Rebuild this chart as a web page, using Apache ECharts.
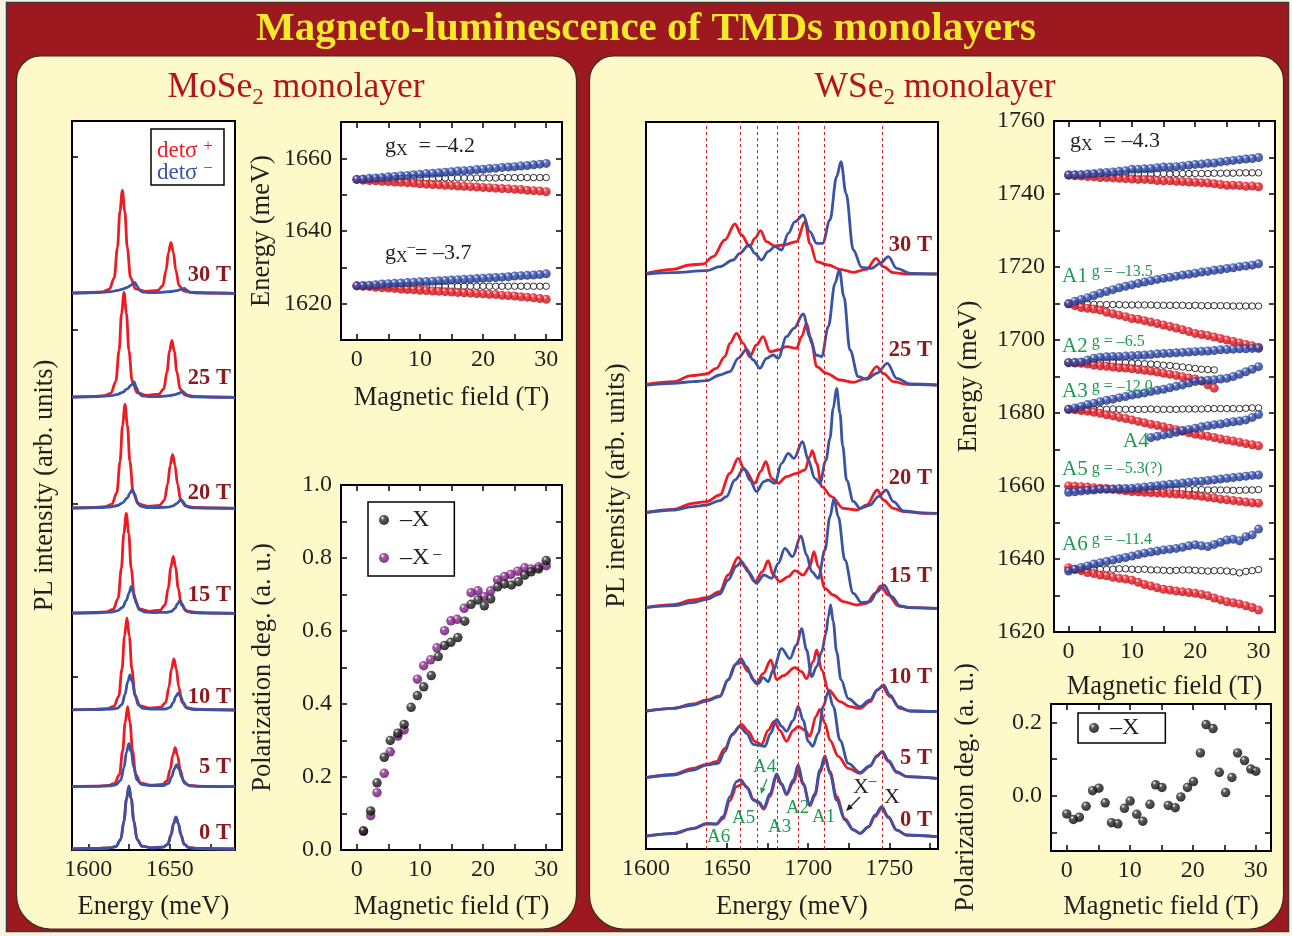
<!DOCTYPE html>
<html>
<head>
<meta charset="utf-8">
<title>Magneto-luminescence of TMDs monolayers</title>
<script src="https://cdn.jsdelivr.net/npm/echarts@6.0.0/dist/echarts.min.js"></script>
<style>
html,body{margin:0;padding:0;background:#f7f3e3;}
#chart{width:1292px;height:936px;}
</style>
</head>
<body>
<div id="chart"></div>
<script>
// ================= DATA =================
// --- MoSe2 PL spectra: [energy meV, intensity arb.u.] relative to each baseline ---
const moFields = ['0 T','5 T','10 T','15 T','20 T','25 T','30 T'];
const moOffsets = [1, 63.3, 140, 236.7, 341.7, 452.7, 556.7];
const moR0 = [[1590,0.2],[1604.9,0.5],[1612.9,1],[1616.9,2.4],[1619.9,9.3],[1621.9,28],[1623.4,49.6],[1624.9,62],[1626.4,49.6],[1627.9,28],[1629.9,9.5],[1632.9,2.8],[1638.9,1.2],[1645.8,1.8],[1648.8,4.7],[1650.8,14],[1652.3,25],[1653.8,31.5],[1655.3,25],[1656.8,14],[1658.8,4.7],[1661.8,1.3],[1667.8,0.5],[1690,0]];
const moB0 = [[1590,0.2],[1604.9,0.5],[1612.9,1],[1616.9,2.5],[1619.9,9.5],[1621.9,28.4],[1623.4,50],[1624.9,63],[1626.4,50],[1627.9,28.4],[1629.9,9.7],[1632.9,2.8],[1638.9,1.2],[1645.8,1.8],[1648.8,4.8],[1650.8,14.4],[1652.3,25.6],[1653.8,32],[1655.3,25.6],[1656.8,14.4],[1658.8,4.8],[1661.8,1.3],[1667.8,0.5],[1690,0]];
const moR5 = [[1590,0.3],[1604.1,0.6],[1612.1,1.2],[1616.1,3.2],[1619.1,12],[1621.1,36],[1622.6,64],[1624.1,80],[1625.6,64],[1627.1,36],[1629.1,12.3],[1632.1,3.5],[1638.1,1.5],[1645.3,2.2],[1648.3,5.8],[1650.3,17.5],[1651.8,31],[1653.3,39],[1654.8,31],[1656.3,17.5],[1658.3,5.8],[1661.3,1.6],[1667.3,0.6],[1675,0.2],[1690,0]];
const moB5 = [[1590,0.2],[1604.9,0.4],[1612.9,0.8],[1616.9,1.8],[1619.9,6.5],[1621.9,19.4],[1623.4,34.4],[1624.9,43],[1626.4,34.4],[1627.9,19.4],[1629.9,6.7],[1632.9,2],[1639,1],[1646.2,1.2],[1649.2,3.3],[1651.2,10],[1652.7,17.6],[1654.2,22],[1655.7,17.6],[1657.2,10],[1659.2,3.3],[1662.2,0.9],[1668,0.4],[1690,0]];
const moR10 = [[1590,0.3],[1603.7,0.7],[1611.7,1.4],[1615.7,3.7],[1618.7,13.8],[1620.7,41.4],[1622.2,73.6],[1623.7,92],[1625.2,73.6],[1626.7,41.4],[1628.7,14],[1631.7,4],[1637.7,1.8],[1644.5,2.8],[1647.5,7.6],[1649.5,23],[1651,41],[1652.5,51],[1654,41],[1655.5,23],[1657.5,7.6],[1660.5,2],[1666.5,0.8],[1675,0.3],[1690,0]];
const moB10 = [[1590,0.2],[1605.6,0.4],[1613.6,0.8],[1617.6,1.6],[1620.6,5.3],[1622.6,15.8],[1624.1,28],[1625.6,35],[1627.1,28],[1628.6,15.8],[1630.6,5.4],[1633.6,1.6],[1640,0.8],[1647.2,1],[1650.2,2.6],[1652.2,7.7],[1653.7,13.6],[1655.2,17],[1656.7,13.6],[1658.2,7.7],[1660.2,2.6],[1663.2,0.7],[1669,0.3],[1690,0]];
const moR15 = [[1590,0.3],[1603.3,0.8],[1611.3,1.5],[1615.3,4],[1618.3,15],[1620.3,45],[1621.8,80],[1623.3,100],[1624.8,80],[1626.3,45],[1628.3,15.3],[1631.3,4.3],[1637.3,2],[1644.1,3.2],[1647.1,8.5],[1649.1,25.6],[1650.6,45.6],[1652.1,57],[1653.6,45.6],[1655.1,25.6],[1657.1,8.5],[1660.1,2.3],[1666.1,0.9],[1675,0.3],[1690,0]];
const moB15 = [[1590,0.2],[1606,0.5],[1614,1.2],[1618,2.6],[1621,6],[1623.4,13],[1624.9,20],[1626.4,27],[1627.9,20],[1629.4,10],[1631.4,3.5],[1635,1.2],[1641,0.8],[1648,1],[1651,2],[1653.2,5],[1654.7,9.5],[1656.2,13],[1657.7,9],[1659.2,4],[1661.2,1.5],[1664,0.6],[1670,0.2],[1690,0]];
const moR20 = [[1590,0.3],[1602.5,0.8],[1610.5,1.6],[1614.5,4.2],[1617.5,15.6],[1619.5,47],[1621,83],[1622.5,104],[1624,83],[1625.5,47],[1627.5,15.8],[1630.5,4.5],[1636.5,2],[1643.7,3],[1646.7,8],[1648.7,24.3],[1650.2,43],[1651.7,54],[1653.2,43],[1654.7,24.3],[1656.7,8],[1659.7,2.2],[1665.7,0.8],[1675,0.3],[1690,0]];
const moB20 = [[1590,0.2],[1606,0.6],[1614,1.4],[1618,2.8],[1621,5.5],[1624,10.5],[1625.5,15],[1627,19],[1628.5,14],[1630,6.5],[1632,2.2],[1636,0.8],[1642,0.8],[1649,1.2],[1652,2.5],[1654.5,5],[1655.8,7.2],[1656.9,9],[1658.2,6.5],[1659.7,3],[1661.7,1],[1665,0.4],[1690,0]];
const moR25 = [[1590,0.3],[1601.9,0.8],[1609.9,1.6],[1613.9,4.2],[1616.9,16],[1618.9,47],[1620.4,84],[1621.9,105],[1623.4,84],[1624.9,47],[1626.9,16.3],[1629.9,4.6],[1635.9,2],[1643.3,3.2],[1646.3,8.5],[1648.3,25.6],[1649.8,45.6],[1651.3,57],[1652.8,45.6],[1654.3,25.6],[1656.3,8.5],[1659.3,2.3],[1665.3,0.9],[1675,0.3],[1690,0]];
const moB25 = [[1590,0.2],[1606,0.7],[1614,1.6],[1618,3],[1621,5],[1624,8.5],[1626.5,12.5],[1628,15.6],[1629.5,10],[1631,4],[1633,1.5],[1637,0.6],[1644,0.8],[1650,1.6],[1653,2.6],[1655.5,4],[1657.9,6],[1659.3,4],[1661,1.5],[1664,0.5],[1690,0]];
const moR30 = [[1590,0.3],[1600.9,0.8],[1608.9,1.5],[1612.9,4],[1615.9,15.5],[1617.9,46],[1619.4,82],[1620.9,103],[1622.4,82],[1623.9,46],[1625.9,15.8],[1628.9,4.5],[1634.9,2],[1642.7,3],[1645.7,7.7],[1647.7,23],[1649.2,41],[1650.7,51],[1652.2,41],[1653.7,23],[1655.7,7.7],[1658.7,2.2],[1664.7,0.8],[1675,0.3],[1690,0]];
const moB30 = [[1590,0.2],[1606,0.8],[1614,1.7],[1618,2.9],[1621,4.2],[1624,6],[1626.5,8.5],[1628.5,11],[1630,7],[1631.5,3],[1633.5,1.2],[1638,0.6],[1645,0.9],[1651,1.8],[1654,2.6],[1656.5,3.6],[1658.9,5],[1660.3,3.2],[1662,1.2],[1665,0.4],[1690,0]];

// --- WSe2 PL spectra ---
const wsFields = ['0 T','5 T','10 T','15 T','20 T','25 T','30 T'];
const wsOffsets = [12.3, 70.7, 137.3, 240.7, 335.7, 464, 575];
const wsLines = [1637.3, 1658.3, 1668.5, 1680.9, 1693.8, 1709.9, 1745.7];
const wsR0 = [[1600.2,0.5],[1616.7,3],[1629.0,8],[1637.3,12.5],[1643.4,12.5],[1647.5,18],[1651.7,36],[1655.8,50],[1659.9,53],[1663.0,48],[1666.1,37],[1669.2,34],[1672.7,27.5],[1676.4,40],[1680.5,60],[1683.6,52],[1686.6,42],[1690.8,54],[1693.8,66],[1696.9,52],[1701.0,31],[1704.1,41],[1707.2,64],[1710.3,78],[1713.4,65],[1717.5,40],[1722.6,18],[1727.8,7],[1731.9,3.3],[1737.1,9.5],[1741.2,20],[1745.3,28],[1749.4,19],[1754.5,6.5],[1760.7,1.5],[1779.2,0]];
const wsB0 = [[1600.2,0.7],[1616.7,3.3],[1629.0,8.3],[1637.3,13.3],[1643.4,12.7],[1647.5,20],[1651.7,40],[1655.8,55],[1658.2,57],[1662.0,50],[1666.1,36.7],[1669.2,35],[1672.7,29],[1676.4,43],[1680.5,62.7],[1683.6,53],[1686.6,42.7],[1690.8,56.7],[1693.8,71.7],[1696.9,53],[1701.0,32],[1704.1,43],[1707.2,66.7],[1710.3,80.7],[1713.4,63],[1717.5,36.7],[1722.6,16.7],[1727.8,6.7],[1731.9,3.3],[1737.1,10],[1741.2,21.7],[1745.3,30],[1749.4,20],[1754.5,6.7],[1760.7,1.7],[1779.2,0]];
const wsR5 = [[1600.2,1],[1616.7,4],[1629.0,10],[1637.3,14],[1643.4,16.7],[1648.6,30],[1653.7,45],[1658.9,54],[1663.0,47],[1667.1,37],[1671.2,34],[1675.3,48],[1679.0,57],[1682.5,48],[1686.6,37],[1690.8,48],[1693.8,52],[1698.0,48],[1701.0,42],[1704.8,62],[1707.2,69],[1710.3,55],[1713.4,38],[1718.5,22],[1724.7,10],[1731.9,5],[1738.1,12],[1742.6,23],[1745.3,26],[1749.4,17],[1754.5,6],[1760.7,1.7],[1779.2,0]];
const wsB5 = [[1600.2,0.7],[1616.7,3.3],[1629.0,8.3],[1637.3,13.3],[1644.5,15],[1648.6,26.7],[1652.7,43],[1657.8,52],[1662.0,45],[1666.1,34],[1670.2,33],[1673.3,32],[1676.8,45],[1680.5,59],[1683.6,52],[1686.6,47],[1690.8,58],[1693.8,72],[1696.9,58],[1700.0,37],[1702.7,32],[1706.2,45],[1709.3,72],[1712.4,87],[1715.4,72],[1719.6,38],[1724.7,15],[1731.9,6],[1738.1,12.7],[1742.2,21.7],[1745.7,27],[1749.4,18],[1754.5,6.7],[1760.7,1.7],[1779.2,0]];
const wsR10 = [[1600.2,0.7],[1616.7,3.3],[1629.0,7.7],[1637.3,11.7],[1645.5,15.7],[1650.6,32],[1655.8,48],[1658.9,49],[1663.0,40],[1668.1,28],[1672.2,38],[1677.0,51.7],[1680.5,32],[1684.6,36],[1691.8,44],[1695.9,40],[1699.0,33],[1703.1,50],[1705.2,61.7],[1708.3,41.7],[1712.4,21.7],[1719.6,10],[1725.7,5],[1731.9,3.3],[1738.1,10],[1742.6,21.7],[1745.7,25],[1750.4,15],[1756.6,3.3],[1762.8,0.7],[1779.2,0]];
const wsB10 = [[1600.2,0.7],[1616.7,3.3],[1629.0,6.7],[1637.3,10.7],[1645.5,15],[1650.6,31.7],[1654.8,46.7],[1658.5,53],[1662.0,45],[1666.1,31.7],[1669.2,28],[1672.2,34],[1675.3,30],[1678.4,41.7],[1683.6,63],[1688.7,53],[1692.8,66.7],[1695.9,83],[1699.0,61.7],[1702.1,35],[1705.2,45],[1708.3,60],[1710.9,78],[1712.4,95],[1713.8,106.7],[1715.4,90],[1717.5,60],[1720.2,32],[1724.7,13],[1731.9,5],[1738.1,11.7],[1742.6,21.7],[1746.3,26.7],[1750.4,16.7],[1755.6,5],[1762.8,0.7],[1779.2,0]];
const wsR15 = [[1600.2,1],[1616.7,3.7],[1629.0,8.3],[1637.3,10.7],[1645.5,16.7],[1650.6,33.3],[1656.8,51],[1660.9,41.7],[1667.1,26.7],[1671.8,36.7],[1675.3,47.7],[1678.4,33.3],[1682.5,26.7],[1687.7,31.7],[1691.8,37.7],[1696.9,33.3],[1701.0,41.7],[1703.5,56.7],[1706.2,41.7],[1710.3,20],[1715.4,13.3],[1721.6,6.7],[1729.9,3.3],[1736.0,5],[1741.2,15],[1744.7,22.3],[1749.4,13.3],[1755.6,2.3],[1762.8,0.7],[1779.2,0]];
const wsB15 = [[1600.2,0.7],[1616.7,2.7],[1629.0,5.7],[1637.3,9],[1645.5,14.3],[1650.6,28.3],[1655.8,42.3],[1658.9,46.7],[1663.0,36.7],[1668.1,25],[1672.7,33.3],[1677.4,30],[1681.5,45],[1685.6,60],[1690.3,51.7],[1695.5,72.3],[1699.0,53.3],[1702.1,36.7],[1706.2,30],[1710.3,58.3],[1713.4,91.7],[1715.9,110],[1718.5,91.7],[1722.6,48.3],[1727.8,15],[1732.9,5.7],[1738.1,6.7],[1742.6,16.7],[1746.7,23.3],[1751.5,11.7],[1756.6,2.3],[1762.8,0.7],[1779.2,0]];
const wsR20 = [[1600.2,1],[1616.7,4],[1629.0,10],[1637.3,11.7],[1645.5,18.3],[1651.7,40],[1656.8,55],[1660.9,43.3],[1667.1,30],[1670.6,41.7],[1673.9,51.7],[1677.4,35],[1681.5,30],[1686.6,36.7],[1692.8,40],[1698.0,43.3],[1701.0,56.7],[1702.5,62.7],[1705.2,50],[1708.3,26.7],[1714.4,16.7],[1721.6,5],[1729.9,3.3],[1736.0,8.3],[1742.6,23.3],[1746.3,13.3],[1752.5,5],[1758.7,1.7],[1771.0,0],[1779.2,0]];
const wsB20 = [[1600.2,0.7],[1616.7,3.3],[1629.0,6.7],[1637.3,8.3],[1645.5,12.7],[1649.6,16.7],[1654.8,33.3],[1660.5,45],[1664.0,33.3],[1668.1,21.7],[1672.7,31.7],[1675.3,33.3],[1679.4,30],[1683.6,50],[1687.7,60],[1691.2,55],[1696.5,71.7],[1700.0,53.3],[1704.1,35],[1707.2,30],[1710.9,53],[1713.4,75],[1715.4,105],[1717.5,125],[1719.6,100],[1721.2,68],[1723.7,33],[1727.8,12],[1731.9,5],[1738.1,8.3],[1743.2,16.7],[1748.0,23.3],[1752.5,11.7],[1758.7,2.3],[1771.0,0.5],[1779.2,0]];
const wsR25 = [[1600.2,0.7],[1616.7,3.3],[1628.0,9.3],[1637.3,11],[1643.4,16.7],[1648.6,28.3],[1651.7,41.7],[1655.8,51.7],[1659.9,41.7],[1664.0,28.3],[1668.1,40],[1672.2,48.3],[1676.4,33.3],[1681.5,35],[1686.6,38.3],[1692.8,36.7],[1695.9,48.3],[1699.0,61.7],[1702.1,41.7],[1705.2,18.3],[1711.3,11.7],[1719.6,5],[1727.8,2.7],[1736.0,6.7],[1742.2,18.3],[1746.3,11.7],[1752.5,3.3],[1760.7,0.7],[1779.2,0]];
const wsB25 = [[1600.2,0],[1616.7,1.7],[1629.0,3.3],[1637.3,4.3],[1645.5,10],[1651.7,13.3],[1656.8,26.7],[1662.0,35.7],[1666.1,25],[1670.2,16.7],[1674.3,26.7],[1678.4,30],[1681.5,26.7],[1686.6,48.3],[1691.2,56.7],[1696.9,71],[1701.0,48.3],[1704.8,30],[1708.3,28.3],[1712.4,58.3],[1716.5,101.7],[1719.2,115],[1722.0,88.3],[1725.7,35],[1730.9,8.3],[1736.0,5.7],[1742.2,11.7],[1748.8,21.7],[1754.5,6.7],[1762.8,1],[1779.2,0]];
const wsR30 = [[1600.2,0.7],[1616.7,4.7],[1627.0,9],[1635.2,10],[1641.4,17.3],[1648.6,34],[1654.8,50],[1658.9,39],[1664.0,27.3],[1667.1,35.7],[1670.6,43.3],[1674.3,32.3],[1679.4,28],[1684.6,29],[1692.8,32.3],[1698.0,52.3],[1701.0,30.7],[1705.2,12.3],[1712.4,9],[1719.6,4.7],[1727.8,1.7],[1736.0,4.7],[1741.8,15.7],[1746.3,7.3],[1752.5,1.3],[1760.7,0],[1779.2,0]];
const wsB30 = [[1600.2,0],[1616.7,1.3],[1637.3,3.3],[1645.5,7.3],[1653.7,14],[1657.8,20.7],[1663.4,29],[1667.1,20.7],[1671.2,14],[1675.3,22.3],[1679.4,27.3],[1683.6,24],[1687.7,40.7],[1691.8,52.3],[1696.9,59],[1701.0,42.3],[1705.2,30.7],[1708.9,30.7],[1713.4,54],[1717.5,97.3],[1720.2,112.3],[1723.3,80.7],[1727.8,24],[1732.9,6.7],[1739.1,5.7],[1744.3,10.7],[1749.4,17.3],[1754.5,5.7],[1762.8,0.7],[1779.2,0]];

// --- magnetic field values (T) for energy panels ---
const fieldB = [0,1,2,3,4,5,6,7,8,9,10,11,12,13,14,15,16,17,18,19,20,21,22,23,24,25,26,27,28,29,30];

// --- MoSe2 peak energies vs field (meV) ---
const moX_b  = [1654.2,1654.3,1654.5,1654.6,1654.7,1654.9,1655.0,1655.2,1655.3,1655.5,1655.6,1655.8,1655.9,1656.0,1656.2,1656.3,1656.5,1656.6,1656.7,1656.9,1657.0,1657.2,1657.3,1657.5,1657.6,1657.7,1657.9,1658.0,1658.2,1658.4,1658.6];
const moX_r  = [1654.2,1654.0,1653.9,1653.8,1653.7,1653.6,1653.5,1653.4,1653.3,1653.2,1653.0,1652.9,1652.8,1652.7,1652.6,1652.5,1652.4,1652.3,1652.2,1652.1,1652.0,1651.9,1651.8,1651.7,1651.6,1651.5,1651.4,1651.2,1651.1,1651.0,1650.8];
const moX_k  = [1654.3,1654.3,1654.3,1654.4,1654.4,1654.4,1654.4,1654.5,1654.5,1654.5,1654.5,1654.5,1654.5,1654.6,1654.6,1654.6,1654.6,1654.6,1654.6,1654.6,1654.6,1654.6,1654.6,1654.7,1654.7,1654.7,1654.7,1654.7,1654.7,1654.7,1654.7];
const moXm_b = [1624.9,1625.0,1625.1,1625.2,1625.4,1625.5,1625.6,1625.7,1625.8,1625.9,1626.0,1626.1,1626.2,1626.3,1626.4,1626.5,1626.6,1626.7,1626.8,1626.9,1627.0,1627.1,1627.2,1627.3,1627.4,1627.6,1627.7,1627.8,1627.9,1628.0,1628.2];
const moXm_r = [1624.9,1624.8,1624.7,1624.5,1624.4,1624.3,1624.2,1624.0,1623.9,1623.8,1623.7,1623.6,1623.5,1623.4,1623.3,1623.2,1623.1,1623.0,1622.9,1622.8,1622.7,1622.6,1622.5,1622.3,1622.2,1622.1,1621.9,1621.8,1621.6,1621.4,1621.2];
const moXm_k = [1624.9,1624.9,1624.9,1624.9,1624.9,1624.8,1624.8,1624.8,1624.8,1624.8,1624.8,1624.8,1624.8,1624.8,1624.8,1624.8,1624.8,1624.8,1624.8,1624.8,1624.8,1624.8,1624.8,1624.8,1624.8,1624.8,1624.8,1624.8,1624.8,1624.8,1624.8];

// --- MoSe2 polarization degree ---
const moPolX_B  = [1.06,2.2,3.2,4.35,5.3,6.5,7.5,8.6,9.6,10.6,11.8,12.9,13.9,14.9,16.0,17.1,18.1,19.2,20.2,21.2,22.3,23.4,24.5,25.6,26.6,27.6,28.8,30.0];
const moPolX_P  = [0.052,0.107,0.184,0.254,0.300,0.320,0.344,0.391,0.423,0.447,0.478,0.530,0.560,0.569,0.582,0.627,0.673,0.685,0.669,0.688,0.721,0.729,0.726,0.735,0.753,0.762,0.770,0.793];
const moPolXm_B = [1.06,2.2,3.2,4.35,5.3,6.5,7.5,9.6,10.6,11.7,12.7,13.9,14.9,15.9,17.0,18.1,19.2,20.2,21.2,22.3,23.4,24.4,25.5,26.6,27.6,28.8,30.0];
const moPolXm_P = [0.052,0.094,0.157,0.210,0.269,0.312,0.329,0.468,0.505,0.521,0.554,0.601,0.628,0.632,0.662,0.705,0.710,0.694,0.710,0.740,0.749,0.755,0.764,0.773,0.770,0.776,0.779];

// --- WSe2 peak energies vs field (meV); null = not observed ---
const wX_b  = [1745.2,1745.3,1745.3,1745.5,1745.6,1745.8,1745.9,1746.0,1746.2,1746.4,1746.8,1746.8,1746.9,1747.0,1747.2,1747.4,1747.4,1747.5,1747.7,1747.9,1748.1,1748.2,1748.4,1748.5,1748.8,1749.0,1749.2,1749.4,1749.6,1749.7,1750.0];
const wX_r  = [1745.2,1745.0,1744.9,1744.8,1744.7,1744.5,1744.5,1744.4,1744.3,1744.2,1744.1,1744.0,1744.0,1743.9,1743.7,1743.6,1743.6,1743.5,1743.4,1743.3,1743.2,1743.1,1743.0,1742.8,1742.6,1742.4,1742.4,1742.3,1742.1,1742.2,1742.0];
const wX_k  = [1745.3,1745.3,1745.4,1745.4,1745.4,1745.5,1745.5,1745.5,1745.5,1745.5,1745.5,1745.5,1745.5,1745.5,1745.6,1745.6,1745.5,1745.6,1745.6,1745.6,1745.6,1745.6,1745.6,1745.7,1745.7,1745.7,1745.7,1745.8,1745.8,1745.8,1745.8];
const wA1_b = [1709.9,1710.6,1711.1,1711.6,1712.2,1712.8,1713.3,1713.8,1714.3,1714.7,1715.1,1715.5,1715.9,1716.2,1716.6,1716.9,1717.2,1717.5,1717.8,1718.0,1718.3,1718.6,1718.8,1719.1,1719.3,1719.6,1719.8,1720.1,1720.3,1720.5,1720.9];
const wA1_r = [1709.9,1709.4,1708.9,1708.7,1708.5,1708.2,1707.6,1707.2,1706.8,1706.4,1705.9,1705.7,1705.3,1704.9,1704.5,1704.1,1703.7,1703.3,1702.8,1702.3,1701.8,1701.5,1701.2,1700.8,1700.4,1700.0,1699.6,1699.2,1698.8,1698.4,1698.0];
const wA1_k = [1709.9,1709.9,1709.8,1709.8,1709.8,1709.7,1709.7,1709.7,1709.7,1709.6,1709.6,1709.6,1709.6,1709.6,1709.5,1709.5,1709.5,1709.5,1709.5,1709.4,1709.5,1709.4,1709.4,1709.4,1709.4,1709.4,1709.3,1709.3,1709.3,1709.3,1709.3];
const wA2_b = [1693.8,1693.9,1694.0,1694.5,1695.0,1695.3,1695.4,1695.5,1695.5,1695.6,1695.7,1695.8,1695.9,1696.0,1696.2,1696.3,1696.4,1696.5,1696.6,1696.7,1696.8,1696.9,1697.0,1697.1,1697.3,1697.4,1697.5,1697.6,1697.6,1697.7,1697.7];
const wA2_r = [1693.8,1693.7,1693.6,1693.4,1693.1,1692.9,1692.8,1692.6,1692.4,1692.3,1692.1,1691.9,1691.7,1691.5,1691.2,1690.9,1690.6,1690.3,1689.9,1689.6,1689.3,1688.8,1687.7,1686.8,null,null,null,null,null,null,null];
const wA2_k = [1693.8,1693.8,1693.8,1693.9,1693.9,1693.9,1693.9,1693.9,1693.9,1693.8,1693.7,1693.6,1693.5,1693.4,1693.3,1693.1,1693.0,1692.8,1692.6,1692.4,1692.2,1692.0,1691.9,1691.8,null,null,null,null,null,null,null];
const wA3_b = [1681.0,1681.4,1681.8,1682.3,1682.7,1683.1,1683.5,1683.8,1684.2,1684.5,1684.9,1685.2,1685.5,1685.9,1686.2,1686.5,1686.9,1687.3,1687.7,1688.2,1688.6,1688.8,1689.0,1689.1,1689.3,1689.5,1690.0,1690.6,1691.3,1692.0,1692.7];
const wA3_r = [1681.0,1680.9,1680.7,1680.5,1680.2,1679.9,1679.5,1679.2,1678.8,1678.5,1678.1,1677.7,1677.3,1676.9,1676.6,1676.2,1675.8,1675.4,1675.0,1674.6,1674.2,1673.9,1673.6,1673.3,1672.9,1672.6,1672.3,1672.0,1671.6,1671.3,1671.0];
const wA3_k = [1681.0,1681.0,1681.0,1681.0,1681.0,1681.0,1681.0,1681.1,1681.0,1681.0,1681.0,1681.0,1681.0,1681.1,1681.0,1681.0,1681.0,1681.0,1681.1,1681.1,1681.1,1681.1,1681.2,1681.2,1681.2,1681.2,1681.2,1681.2,1681.3,1681.4,1681.4];
const wA4_b = [null,null,null,null,null,null,null,null,null,null,null,null,null,1673.3,1673.6,1674.0,1674.3,1674.7,1675.2,1675.5,1675.8,1676.2,1676.5,1676.8,1677.0,1677.3,1677.6,1677.8,1678.1,1678.8,1679.6];
const wA5_b = [1658.3,1658.4,1658.6,1658.8,1658.9,1659.1,1659.1,1659.2,1659.3,1659.3,1659.4,1659.5,1659.7,1659.9,1660.1,1660.3,1660.5,1660.6,1660.8,1661.0,1661.2,1661.3,1661.5,1661.7,1661.9,1662.1,1662.3,1662.5,1662.7,1662.9,1663.0];
const wA5_r = [1660.0,1659.9,1659.8,1659.7,1659.5,1659.4,1659.3,1659.1,1658.9,1658.7,1658.5,1658.4,1658.3,1658.2,1658.1,1658.0,1657.9,1657.8,1657.7,1657.5,1657.4,1657.2,1656.9,1656.7,1656.4,1656.2,1656.0,1655.8,1655.6,1655.4,1655.3];
const wA5_k = [1659.1,1659.1,1659.1,1659.1,1659.1,1659.1,1659.1,1659.1,1659.1,1659.0,1659.0,1659.0,1659.0,1659.0,1659.0,1659.0,1659.0,1659.1,1659.0,1659.0,1659.0,1659.0,1658.9,1658.9,1658.9,1658.9,1658.8,1658.8,1658.9,1658.9,1659.0];
const wA6_b = [1636.7,1637.2,1637.7,1638.1,1638.6,1639.0,1639.3,1639.7,1640.1,1640.4,1640.8,1641.2,1641.6,1641.9,1642.2,1642.5,1642.7,1642.9,1643.2,1643.6,1643.9,1643.6,1643.4,1644.0,1644.6,1645.2,1645.4,1645.0,1646.1,1646.6,1648.2];
const wA6_r = [1637.6,1637.2,1636.8,1636.3,1636.0,1635.6,1635.4,1635.0,1634.7,1634.5,1634.2,1633.6,1633.0,1632.6,1632.1,1631.7,1631.5,1631.2,1631.0,1630.8,1630.6,1630.3,1629.9,1629.3,1628.8,1628.3,1628.0,1627.7,1627.2,1626.7,1626.0];
const wA6_k = [1637.1,1637.1,1637.2,1637.2,1637.2,1637.2,1637.2,1637.2,1637.3,1637.3,1637.2,1637.1,1637.2,1637.0,1637.0,1636.9,1636.8,1636.9,1637.0,1637.0,1636.9,1636.8,1636.7,1636.8,1636.8,1636.7,1636.5,1636.2,1636.6,1636.8,1637.1];

// --- WSe2 polarization degree ---
const wPol_B = [0,1.06,2.0,3.07,4.1,5.1,6.1,7.1,8.1,9.15,10.05,11.1,12.06,13.2,14.1,15.1,16.1,17.2,18.1,19.15,20.1,21.2,22.1,23.2,24.2,25.2,26.2,27.1,28.2,29.2,30];
const wPol_P = [-0.049,-0.064,-0.058,-0.028,0.014,0.021,-0.019,-0.073,-0.076,-0.034,-0.014,-0.050,-0.069,-0.023,0.030,0.023,-0.026,-0.032,-0.003,0.023,0.039,0.117,0.194,0.183,0.064,0.009,0.050,0.117,0.096,0.073,0.067];

// --- axis ticks / labels ---
const moE_ticks = [1600,1625,1650,1675], moE_labels = [1600,1650];
const wsE_ticks = [1600,1625,1650,1675,1700,1725,1750,1775], wsE_labels = [1600,1650,1700,1750];
const B_ticks = [0,5,10,15,20,25,30], B_labels = [0,10,20,30];
const moEn_ticks = [1620,1630,1640,1650,1660], moEn_labels = [1620,1640,1660];
const wsEn_ticks = [1620,1630,1640,1650,1660,1670,1680,1690,1700,1710,1720,1730,1740,1750,1760], wsEn_labels = [1620,1640,1660,1680,1700,1720,1740,1760];
const pol_ticks = [0,0.1,0.2,0.3,0.4,0.5,0.6,0.7,0.8,0.9,1.0], pol_labels = [0,0.2,0.4,0.6,0.8,1.0];
const wpol_ticks = [-0.1,0,0.1,0.2], wpol_labels = [0,0.2];
const moPL_ticks = [173.3,346.7,520,693.3];

// ================= STYLE / BUILD =================
const FONT = '"Liberation Serif", "Times New Roman", serif';
const RED = '#ed1c24', BLUE = '#3a53a4', INK = '#231f20', FIELD = '#8b1a1e', GREEN = '#1f9a52';
function sphere(main, dark) {
  return {type:'radial', x:0.36, y:0.3, r:0.72, colorStops:[{offset:0,color:'#ffffff'},{offset:0.28,color:main},{offset:1,color:dark}]};
}
const S_RED = sphere('#ef2028', '#b10e17');
const S_BLUE = sphere('#3552b4', '#1a2a72');
const S_BLACK = sphere('#333333', '#000000');
const S_PURPLE = sphere('#902c96', '#560f5e');

const TICK = {inside:true, length:6, lineStyle:{color:'#000', width:1.5}};
const LBL = {fontFamily:FONT, fontSize:24, color:INK, margin:8, formatter: v => String(v)};
const NAME = {fontFamily:FONT, fontSize:26.5, color:INK};

function ax(o) { return Object.assign({type:'value', axisLine:{show:false, onZero:false}, splitLine:{show:false}}, o); }

const grid = [
  {left:72, top:121, width:163, height:729},
  {left:341, top:122, width:221, height:218},
  {left:341, top:485, width:221, height:365},
  {left:646, top:122, width:292, height:727},
  {left:1054, top:121, width:221, height:511},
  {left:1051, top:704, width:220, height:147}
].map(g => Object.assign({show:true, backgroundColor:'#fff', borderColor:'#000', borderWidth:2, containLabel:false, outerBoundsMode:'none'}, g));

const xAxis = [
  ax({gridIndex:0, min:1590, max:1690, axisTick:Object.assign({customValues:moE_ticks}, TICK), axisLabel:Object.assign({customValues:moE_labels}, LBL), name:'Energy (meV)', nameLocation:'middle', nameGap:44, nameTextStyle:NAME}),
  ax({gridIndex:1, min:-2.5, max:32.5, axisTick:Object.assign({customValues:B_ticks}, TICK), axisLabel:Object.assign({customValues:B_labels}, LBL), name:'Magnetic field (T)', nameLocation:'middle', nameGap:45, nameTextStyle:NAME}),
  ax({gridIndex:2, min:-2.5, max:32.5, axisTick:Object.assign({customValues:B_ticks}, TICK), axisLabel:Object.assign({customValues:B_labels}, LBL), name:'Magnetic field (T)', nameLocation:'middle', nameGap:44, nameTextStyle:NAME}),
  ax({gridIndex:3, min:1600, max:1780, axisTick:Object.assign({customValues:wsE_ticks}, TICK), axisLabel:Object.assign({customValues:wsE_labels}, LBL), name:'Energy (meV)', nameLocation:'middle', nameGap:45, nameTextStyle:NAME}),
  ax({gridIndex:4, min:-2.3, max:32.6, axisTick:Object.assign({customValues:B_ticks}, TICK), axisLabel:Object.assign({customValues:B_labels}, LBL), name:'Magnetic field (T)', nameLocation:'middle', nameGap:42, nameTextStyle:NAME}),
  ax({gridIndex:5, min:-2.5, max:32.4, axisTick:Object.assign({customValues:B_ticks}, TICK), axisLabel:Object.assign({customValues:B_labels}, LBL), name:'Magnetic field (T)', nameLocation:'middle', nameGap:43, nameTextStyle:NAME}),
  // mirrored top axes (ticks only)
  ax({gridIndex:1, position:'top', min:-2.5, max:32.5, axisTick:Object.assign({customValues:B_ticks}, TICK), axisLabel:{show:false}}),
  ax({gridIndex:2, position:'top', min:-2.5, max:32.5, axisTick:Object.assign({customValues:B_ticks}, TICK), axisLabel:{show:false}}),
  ax({gridIndex:4, position:'top', min:-2.3, max:32.6, axisTick:Object.assign({customValues:B_ticks}, TICK), axisLabel:{show:false}}),
  ax({gridIndex:5, position:'top', min:-2.5, max:32.4, axisTick:Object.assign({customValues:B_ticks}, TICK), axisLabel:{show:false}})
];
const yAxis = [
  ax({gridIndex:0, min:0, max:729, axisTick:Object.assign({customValues:moPL_ticks}, TICK), axisLabel:{show:false}, name:'PL intensity (arb. units)', nameLocation:'middle', nameGap:13, nameTextStyle:NAME}),
  ax({gridIndex:1, min:1610, max:1670, axisTick:Object.assign({customValues:moEn_ticks}, TICK), axisLabel:Object.assign({customValues:moEn_labels}, LBL, {margin:9}), name:'Energy (meV)', nameLocation:'middle', nameGap:65, nameTextStyle:NAME}),
  ax({gridIndex:2, min:0, max:1, axisTick:Object.assign({customValues:pol_ticks}, TICK), axisLabel:Object.assign({}, LBL, {customValues:pol_labels, margin:9, formatter: v => v.toFixed(1)}), name:'Polarization deg. (a. u.)', nameLocation:'middle', nameGap:64, nameTextStyle:NAME}),
  ax({gridIndex:3, min:0, max:727, axisTick:{show:false}, axisLabel:{show:false}, name:'PL inensity (arb. units)', nameLocation:'middle', nameGap:15, nameTextStyle:NAME}),
  ax({gridIndex:4, min:1620, max:1760, axisTick:Object.assign({customValues:wsEn_ticks}, TICK), axisLabel:Object.assign({customValues:wsEn_labels}, LBL, {margin:9}), name:'Energy (meV)', nameLocation:'middle', nameGap:71, nameTextStyle:NAME}),
  ax({gridIndex:5, min:-0.15, max:0.25, axisTick:Object.assign({customValues:wpol_ticks}, TICK), axisLabel:Object.assign({}, LBL, {customValues:wpol_labels, margin:9, formatter: v => v.toFixed(1)}), name:'Polarization deg. (a. u.)', nameLocation:'middle', nameGap:71, nameTextStyle:Object.assign({padding:[0,20,0,0]}, NAME)}),
  // mirrored right axes (ticks only)
  ax({gridIndex:1, position:'right', min:1610, max:1670, axisTick:Object.assign({customValues:moEn_ticks}, TICK), axisLabel:{show:false}}),
  ax({gridIndex:2, position:'right', min:0, max:1, axisTick:Object.assign({customValues:pol_ticks}, TICK), axisLabel:{show:false}}),
  ax({gridIndex:4, position:'right', min:1620, max:1760, axisTick:Object.assign({customValues:wsEn_ticks}, TICK), axisLabel:{show:false}}),
  ax({gridIndex:5, position:'right', min:-0.15, max:0.25, axisTick:Object.assign({customValues:wpol_ticks}, TICK), axisLabel:{show:false}})
];

const series = [];
function plLine(curve, off, color, ai) {
  return {type:'line', xAxisIndex:ai, yAxisIndex:ai, data:curve.map(p => [p[0], p[1] + off]),
    smooth:0.35, smoothMonotone:'x', symbol:'none', silent:true, z:3,
    lineStyle:{color:color, width:2.8}};
}
const moR = [moR0, moR5, moR10, moR15, moR20, moR25, moR30];
const moB = [moB0, moB5, moB10, moB15, moB20, moB25, moB30];
const wsR = [wsR0, wsR5, wsR10, wsR15, wsR20, wsR25, wsR30];
const wsB = [wsB0, wsB5, wsB10, wsB15, wsB20, wsB25, wsB30];
for (let i = moR.length - 1; i >= 0; i--) {
  series.push(plLine(moR[i], moOffsets[i], RED, 0));
  series.push(plLine(moB[i], moOffsets[i], BLUE, 0));
}
// dashed guide lines at the WSe2 zero-field line energies
series.push({type:'line', xAxisIndex:3, yAxisIndex:3, data:[], z:1, silent:true,
  markLine:{silent:true, symbol:['none','none'], animation:false, label:{show:false},
    lineStyle:{color:'#c0242c', type:[3,3], width:1}, emphasis:{disabled:true},
    data: wsLines.map(v => ({xAxis:v}))}});
for (let i = wsR.length - 1; i >= 0; i--) {
  series.push(plLine(wsR[i], wsOffsets[i], RED, 3));
  series.push(plLine(wsB[i], wsOffsets[i], BLUE, 3));
}

function pairs(xs, ys) { const out = []; xs.forEach((x, i) => { if (ys[i] != null) out.push([x, ys[i]]); }); return out; }
function dots(name, data, fill, size, ai, extra) {
  return Object.assign({type:'scatter', name:name, xAxisIndex:ai, yAxisIndex:ai, data:data, symbol:'circle', symbolSize:size,
    itemStyle:{color:fill}, silent:true, z:4}, extra || {});
}
const OPEN = {itemStyle:{color:'#ffffff', borderColor:'#000', borderWidth:1}};
// MoSe2 energies
[moX_k, moXm_k].forEach(a => series.push(dots('avg', pairs(fieldB, a), '#fff', 6.5, 1, OPEN)));
[moX_r, moXm_r].forEach(a => series.push(dots('r', pairs(fieldB, a), S_RED, 9, 1)));
[moX_b, moXm_b].forEach(a => series.push(dots('b', pairs(fieldB, a), S_BLUE, 9, 1)));
// MoSe2 polarization
series.push(dots('mXm', pairs(moPolXm_B, moPolXm_P), S_PURPLE, 9.5, 2));
series.push(dots('mX', pairs(moPolX_B, moPolX_P), S_BLACK, 9.5, 2));
// WSe2 energies
[wX_k, wA1_k, wA2_k, wA3_k, wA5_k, wA6_k].forEach(a => series.push(dots('avg', pairs(fieldB, a), '#fff', 6.5, 4, OPEN)));
[wX_r, wA1_r, wA2_r, wA3_r, wA5_r, wA6_r].forEach(a => series.push(dots('r', pairs(fieldB, a), S_RED, 9, 4)));
[wX_b, wA1_b, wA2_b, wA3_b, wA4_b, wA5_b, wA6_b].forEach(a => series.push(dots('b', pairs(fieldB, a), S_BLUE, 9, 4)));
// WSe2 polarization
series.push(dots('wX', pairs(wPol_B, wPol_P), S_BLACK, 9.5, 5));

// ---- graphics: frame, panels, titles, annotations ----
function T(x, y, text, o) {
  o = o || {};
  const al = o.align || 'left';
  return {type:'text', x:x, y:y, z:100, silent:true,
    style: Object.assign({text:text, fontFamily:FONT, fontSize:22, fill:INK, align:al, textAlign:al,
      verticalAlign:'middle', textVerticalAlign:'middle'}, o.style || {})};
}
function R(n, s, c) { return {fontFamily:FONT, fontSize:s, fill:c, lineHeight:n}; }
const gRich = {
  n: R(26, 22, INK),
  sub: Object.assign(R(14, 16, INK), {verticalAlign:'bottom'}),
  sup: Object.assign(R(12, 15, INK), {verticalAlign:'top'})
};
const gGreen = {
  a: R(24, 21, GREEN),
  g: Object.assign(R(14, 16, GREEN), {verticalAlign:'top'})
};
function fieldLbl(x, y, t) { return T(x, y, t, {align:'right', style:{fontWeight:'bold', fill:FIELD, fontSize:22.5}}); }
function green(x, y, t, fs) { return T(x, y, t, {style:{fill:GREEN, fontSize:fs || 19}}); }
const titleRich = {a:R(42, 35.5, '#b3151c'), s:Object.assign(R(20, 23, '#b3151c'), {verticalAlign:'bottom'})};

const graphic = [
  {type:'rect', z:-20, silent:true, shape:{x:6.5, y:2.5, width:1282, height:929}, style:{fill:'#9c1a1f', stroke:'#3a3a3a', lineWidth:1.5}},
  {type:'rect', z:-10, silent:true, shape:{x:16.5, y:56, width:560, height:873, r:[24,24,34,34]}, style:{fill:'#fdf9c8', stroke:'#3a2a20', lineWidth:1.2}},
  {type:'rect', z:-10, silent:true, shape:{x:589.5, y:56, width:694, height:873, r:[24,24,34,34]}, style:{fill:'#fdf9c8', stroke:'#3a2a20', lineWidth:1.2}},
  T(646, 29, 'Magneto-luminescence of TMDs monolayers', {align:'center', style:{fontSize:41, fontWeight:'bold', fill:'#f5ea2a'}}),
  T(296, 88, '{a|MoSe}{s|2}{a| monolayer}', {align:'center', style:{rich:titleRich}}),
  T(935, 88, '{a|WSe}{s|2}{a| monolayer}', {align:'center', style:{rich:titleRich}}),
  // MoSe2 PL legend box
  {type:'rect', z:100, silent:true, shape:{x:151, y:129, width:73, height:56}, style:{fill:'#fff', stroke:'#000', lineWidth:1.5}},
  T(157, 151, '{a|detσ }{s|+}', {style:{rich:{a:R(26, 23, RED), s:Object.assign(R(14, 17, RED), {verticalAlign:'top'})}}}),
  T(157, 173, '{a|detσ }{s|−}', {style:{rich:{a:R(26, 23, BLUE), s:Object.assign(R(14, 17, BLUE), {verticalAlign:'top'})}}}),
  // MoSe2 field labels
  fieldLbl(231, 275, '30 T'), fieldLbl(231, 378, '25 T'), fieldLbl(231, 493, '20 T'), fieldLbl(231, 595, '15 T'),
  fieldLbl(231, 697, '10 T'), fieldLbl(231, 767, '5 T'), fieldLbl(231, 833, '0 T'),
  // MoSe2 g-factors
  T(385, 146, '{n|g}{sub|X}{n|  = –4.2}', {style:{rich:gRich}}),
  T(385, 253, '{n|g}{sub|X}{sup|–}{n|= –3.7}', {style:{rich:gRich}}),
  // WSe2 field labels
  fieldLbl(932, 245, '30 T'), fieldLbl(932, 350, '25 T'), fieldLbl(932, 478, '20 T'), fieldLbl(932, 576, '15 T'),
  fieldLbl(932, 677, '10 T'), fieldLbl(932, 758, '5 T'), fieldLbl(932, 820, '0 T'),
  // WSe2 PL peak labels
  green(707, 837, 'A6'), green(732, 818, 'A5'), green(753, 767, 'A4'), green(768, 827, 'A3'), green(786, 808, 'A2'), green(812, 817, 'A1'),
  {type:'line', z:100, silent:true, shape:{x1:767, y1:779, x2:762, y2:791}, style:{stroke:GREEN, lineWidth:1.3}},
  {type:'polygon', z:100, silent:true, shape:{points:[[761,794],[765.6,789],[760.2,787.2]]}, style:{fill:GREEN}},
  T(853, 787, '{n|X}{sup|–}', {style:{rich:gRich}}),
  T(884, 797, 'X', {style:{fontSize:22}}),
  {type:'line', z:100, silent:true, shape:{x1:860, y1:797, x2:849, y2:808}, style:{stroke:INK, lineWidth:1.3}},
  {type:'polygon', z:100, silent:true, shape:{points:[[846,811],[853,808.2],[848.9,804]]}, style:{fill:INK}},
  // WSe2 g-factors
  T(1070, 141, '{n|g}{sub|X}{n|  = –4.3}', {style:{rich:gRich}}),
  T(1062, 276, '{a|A1}{g| g = –13.5}', {style:{rich:gGreen}}),
  T(1062, 346, '{a|A2}{g| g = –6.5}', {style:{rich:gGreen}}),
  T(1062, 391, '{a|A3}{g| g = –12.0}', {style:{rich:gGreen}}),
  T(1123, 441, 'A4', {style:{fill:GREEN, fontSize:21}}),
  T(1062, 469, '{a|A5}{b| g = –5.3(?)}', {style:{rich:{a:R(24, 21, GREEN), b:R(24, 16, GREEN)}}}),
  T(1062, 544, '{a|A6}{g| g = –11.4}', {style:{rich:gGreen}})
];

const legRich = {t:{fontFamily:FONT, fontSize:24, color:INK}, s:{fontFamily:FONT, fontSize:16, color:INK, verticalAlign:'top', lineHeight:14}};
const legend = [
  {show:true, orient:'vertical', left:368, top:502, data:['mX','mXm'], icon:'circle', itemWidth:10, itemHeight:10, itemGap:14,
   padding:[6,13,6,11], borderColor:'#000', borderWidth:1.5, backgroundColor:'#fff', selectedMode:false,
   textStyle:{fontFamily:FONT, fontSize:24, color:INK, padding:[0,0,0,6], rich:legRich},
   formatter: n => n === 'mXm' ? '{t|–X}{s| –}' : '{t|–X}'},
  {show:true, orient:'vertical', left:1078, top:713, data:['wX'], icon:'circle', itemWidth:10, itemHeight:10,
   padding:[3,26,3,11], borderColor:'#000', borderWidth:1.5, backgroundColor:'#fff', selectedMode:false,
   textStyle:{fontFamily:FONT, fontSize:24, color:INK, padding:[0,0,0,6], rich:legRich},
   formatter: () => '{t|–X}'}
];

const chart = echarts.init(document.getElementById('chart'), null, {renderer:'canvas'});
chart.setOption({
  animation:false,
  backgroundColor:'#f7f3e3',
  textStyle:{fontFamily:FONT},
  grid: grid, xAxis: xAxis, yAxis: yAxis, series: series, graphic: graphic, legend: legend,
  tooltip:{show:false}
});
</script>
</body>
</html>
